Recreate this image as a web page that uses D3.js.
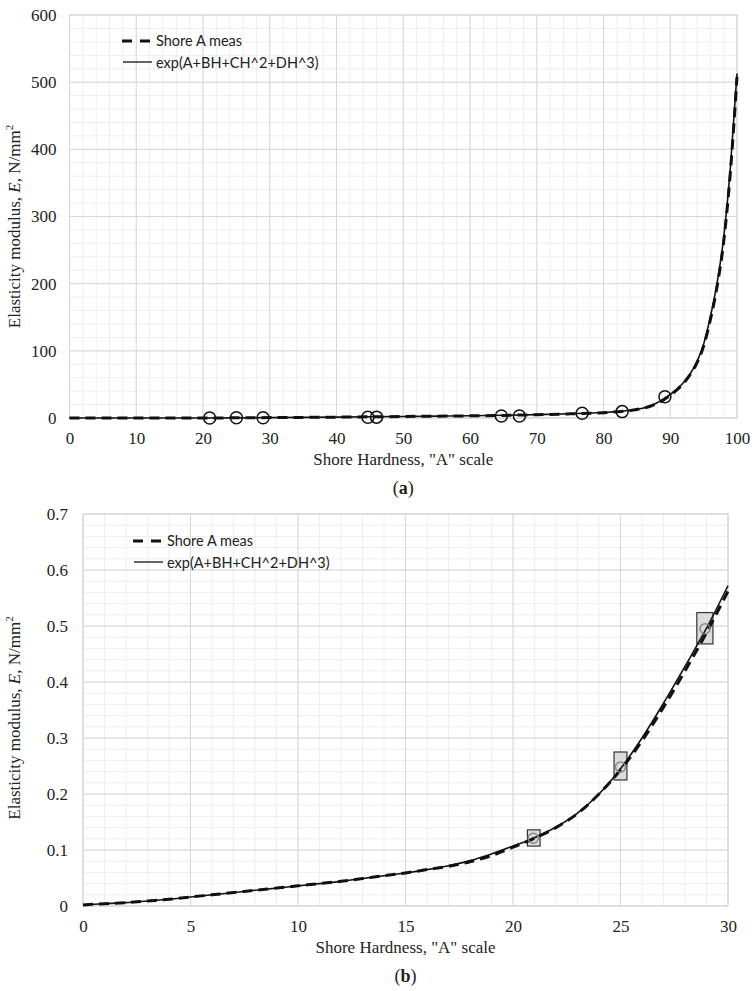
<!DOCTYPE html>
<html><head><meta charset="utf-8">
<script src="https://cdn.jsdelivr.net/npm/d3@7"></script>
<style>body{margin:0;background:#fff}svg{display:block}</style>
</head><body>
<svg id="c" width="755" height="991"></svg>
<script>
// ---------- data ----------
const topH    = [0,5,10,15,20,25,30,35,40,45,50,55,60,65,70,75,80,83,85,87,89,90,91,92,93,94,95,96,97,98,99,100];
const topFit  = [0.002,0.016,0.036,0.059,0.107,0.245,0.572,0.95,1.35,1.8,2.3,2.8,3.3,4.0,5.0,6.4,8.3,10.3,13,18,28,35,43,53,66,84,110,150,200,268,372,513];
const topMeas = [0.002,0.016,0.036,0.059,0.107,0.243,0.562,0.93,1.3,1.75,2.25,2.75,3.25,3.9,4.9,6.2,8.0,10.0,12.6,17.5,27,34,42,52,65,82,107,146,195,262,365,508];
const circH   = [21,25,29,44.7,46,64.7,67.4,76.8,82.8,89.2];
const circE   = [0.12,0.25,0.49,1.2,1.3,3.0,3.0,7.0,9.5,31.7];

const botH    = [0,1,2,3,4,5,6,7,8,9,10,11,12,13,14,15,16,17,18,19,20,21,22,23,24,25,26,27,28,29,30];
const botFit  = [0.002,0.004,0.006,0.009,0.012,0.016,0.020,0.024,0.028,0.032,0.036,0.040,0.044,0.049,0.054,0.059,0.065,0.072,0.081,0.093,0.107,0.122,0.141,0.166,0.200,0.245,0.300,0.362,0.428,0.496,0.572];
const botMeas = [0.002,0.004,0.006,0.009,0.012,0.016,0.020,0.024,0.028,0.032,0.036,0.040,0.044,0.049,0.054,0.059,0.065,0.071,0.079,0.090,0.105,0.121,0.140,0.165,0.200,0.243,0.295,0.355,0.420,0.488,0.562];
const boxH    = [20.94,25,28.93];
const boxHLo  = [20.67,24.7,28.55];
const boxHHi  = [21.26,25.3,29.3];
const boxE    = [0.121,0.248,0.495];
const boxELo  = [0.107,0.225,0.468];
const boxEHi  = [0.136,0.275,0.524];

const legendLabels = ["Shore A meas","exp(A+BH+CH^2+DH^3)"];
const xTitle = 'Shore Hardness, "A" scale';

const svg = d3.select("#c");
const serif = "'Liberation Serif','Times New Roman',serif";
const sans = "Lato,'Liberation Sans',sans-serif";

function panel(o){
  const g = svg.append("g");
  const x = d3.scaleLinear().domain(o.xDom).range([o.left,o.right]);
  const y = d3.scaleLinear().domain(o.yDom).range([o.bottom,o.top]);
  // minor grid
  g.append("g").selectAll("line").data(d3.range(o.xDom[0],o.xDom[1]+1e-9,o.xMinor)).join("line")
    .attr("x1",d=>x(d)).attr("x2",d=>x(d)).attr("y1",o.top).attr("y2",o.bottom)
    .attr("stroke","#eeeeee").attr("stroke-width",1);
  g.append("g").selectAll("line").data(d3.range(o.yDom[0],o.yDom[1]+1e-9,o.yMinor)).join("line")
    .attr("x1",o.left).attr("x2",o.right).attr("y1",d=>y(d)).attr("y2",d=>y(d))
    .attr("stroke","#eeeeee").attr("stroke-width",1);
  // major grid
  g.append("g").selectAll("line").data(o.xTicks).join("line")
    .attr("x1",d=>x(d)).attr("x2",d=>x(d)).attr("y1",o.top).attr("y2",o.bottom)
    .attr("stroke","#d8d8d8").attr("stroke-width",1);
  g.append("g").selectAll("line").data(o.yTicks).join("line")
    .attr("x1",o.left).attr("x2",o.right).attr("y1",d=>y(d)).attr("y2",d=>y(d))
    .attr("stroke","#d8d8d8").attr("stroke-width",1);
  g.append("rect").attr("x",o.left).attr("y",o.top).attr("width",o.right-o.left).attr("height",o.bottom-o.top)
    .attr("fill","none").attr("stroke","#d6d6d6");
  // axes (labels only)
  const xa = g.append("g").attr("transform",`translate(0,${o.bottom})`)
    .call(d3.axisBottom(x).tickValues(o.xTicks).tickFormat(o.xFmt).tickSize(0).tickPadding(14));
  xa.select(".domain").remove();
  xa.selectAll("text").attr("font-family",serif).attr("font-size",17).attr("fill","#222");
  const ya = g.append("g").attr("transform",`translate(${o.left},0)`)
    .call(d3.axisLeft(y).tickValues(o.yTicks).tickFormat(o.yFmt).tickSize(0).tickPadding(o.yPad));
  ya.select(".domain").remove();
  ya.selectAll("text").attr("font-family",serif).attr("font-size",17).attr("fill","#222");
  // titles
  g.append("text").attr("x",(o.left+o.right)/2).attr("y",o.bottom+47).attr("text-anchor","middle")
    .attr("font-family",serif).attr("font-size",17).attr("fill","#222").text(xTitle);
  const yt = g.append("text").attr("transform",`translate(20,${(o.top+o.bottom)/2+o.yTitleShift}) rotate(-90)`)
    .attr("text-anchor","middle").attr("font-family",serif).attr("font-size",17).attr("fill","#222");
  yt.append("tspan").text("Elasticity modulus, ");
  yt.append("tspan").attr("font-style","italic").text("E");
  yt.append("tspan").text(", N/mm");
  yt.append("tspan").attr("font-size",11).attr("dy",-7).text("2");
  const cap = g.append("text").attr("x",(o.left+o.right)/2).attr("y",o.bottom+76).attr("text-anchor","middle")
    .attr("font-family",serif).attr("font-size",18).attr("fill","#222");
  cap.append("tspan").text("(");
  cap.append("tspan").attr("font-weight","bold").text(o.cap);
  cap.append("tspan").text(")");
  return {g,x,y};
}

function drawLines(p, H, fit, meas){
  const mk = arr => d3.line().x((d,i)=>p.x(H[i])).y(d=>p.y(d)).curve(d3.curveMonotoneX)(arr);
  p.g.append("path").attr("d",mk(meas)).attr("fill","none").attr("stroke","#111")
    .attr("stroke-width",3).attr("stroke-dasharray","10,6");
  p.g.append("path").attr("d",mk(fit)).attr("fill","none").attr("stroke","#111").attr("stroke-width",1.6);
}

function legend(p, lx, ly){
  const L = p.g.append("g");
  L.append("line").attr("x1",lx).attr("x2",lx+28).attr("y1",ly).attr("y2",ly)
    .attr("stroke","#111").attr("stroke-width",3).attr("stroke-dasharray","10,8");
  L.append("line").attr("x1",lx+1).attr("x2",lx+30).attr("y1",ly+21).attr("y2",ly+21)
    .attr("stroke","#111").attr("stroke-width",1.3);
  L.selectAll("text").data(legendLabels).join("text")
    .attr("x",lx+34).attr("y",(d,i)=>ly+5+i*22)
    .attr("font-family",sans).attr("font-size",14.5).attr("fill","#222").text(d=>d);
}

// ---------- panel (a) ----------
const pa = panel({xDom:[0,100],yDom:[0,600],left:69.5,right:737,top:15,bottom:418,
  xTicks:d3.range(0,101,10),yTicks:d3.range(0,601,100),xMinor:2,yMinor:20,
  xFmt:d3.format("d"),yFmt:d3.format("d"),yPad:13,cap:"a",yTitleShift:10});
drawLines(pa, topH, topFit, topMeas);
pa.g.append("g").selectAll("circle").data(circH).join("circle")
  .attr("cx",d=>pa.x(d)).attr("cy",(d,i)=>pa.y(circE[i])).attr("r",6)
  .attr("fill","none").attr("stroke","#111").attr("stroke-width",1.5);
legend(pa, 122, 41);

// ---------- panel (b) ----------
const pb = panel({xDom:[0,30],yDom:[0,0.7],left:83,right:728,top:514,bottom:906,
  xTicks:d3.range(0,31,5),yTicks:d3.range(0,0.71,0.1),xMinor:1,yMinor:0.02,
  xFmt:d3.format("d"),yFmt:d=>d===0?"0":d3.format(".1f")(d),yPad:15,cap:"b",yTitleShift:8});
pb.g.append("g").selectAll("rect").data(boxH).join("rect")
  .attr("x",(d,i)=>pb.x(boxHLo[i])).attr("width",(d,i)=>pb.x(boxHHi[i])-pb.x(boxHLo[i]))
  .attr("y",(d,i)=>pb.y(boxEHi[i])).attr("height",(d,i)=>pb.y(boxELo[i])-pb.y(boxEHi[i]))
  .attr("fill","#dcdcdc").attr("stroke","#333").attr("stroke-width",1.2);
drawLines(pb, botH, botFit, botMeas);
pb.g.append("g").selectAll("circle").data(boxH).join("circle")
  .attr("cx",d=>pb.x(d)).attr("cy",(d,i)=>pb.y(boxE[i])).attr("r",5)
  .attr("fill","none").attr("stroke","#888").attr("stroke-width",1.5);
legend(pb, 133, 541);
</script>
</body></html>
